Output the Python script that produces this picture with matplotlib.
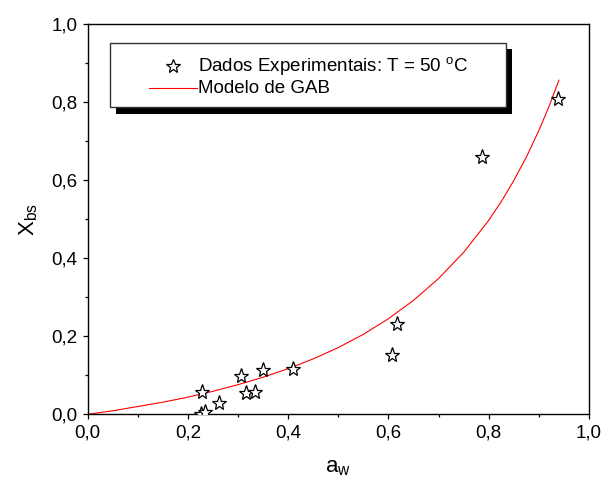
import matplotlib
matplotlib.use('Agg')
import matplotlib.pyplot as plt
from matplotlib.patches import Rectangle
from matplotlib.lines import Line2D

plt.rcParams['font.family'] = ['Liberation Sans', 'DejaVu Sans']
plt.rcParams['mathtext.fontset'] = 'custom'
plt.rcParams['mathtext.rm'] = 'Liberation Sans'
plt.rcParams['mathtext.it'] = 'Liberation Sans:italic'

# experimental points (aw, Xbs)
aw_exp = [0.228, 0.226, 0.233, 0.261, 0.306, 0.316, 0.334, 0.349, 0.409,
          0.608, 0.616, 0.787, 0.938]
x_exp = [0.057, 0.002, 0.006, 0.029, 0.098, 0.054, 0.057, 0.113, 0.117,
         0.153, 0.232, 0.660, 0.809]

# GAB curve
aw_gab = [0.0, 0.05, 0.10, 0.15, 0.20, 0.25, 0.30, 0.35, 0.40, 0.45, 0.50,
          0.55, 0.60, 0.65, 0.70, 0.75, 0.80, 0.825, 0.85, 0.875, 0.90, 0.92, 0.94]
x_gab = [0.0, 0.009, 0.020, 0.031, 0.044, 0.059, 0.076, 0.095, 0.117, 0.142,
         0.171, 0.205, 0.245, 0.292, 0.348, 0.415, 0.497, 0.545, 0.599, 0.659,
         0.727, 0.788, 0.856]

ticks = [0.0, 0.2, 0.4, 0.6, 0.8, 1.0]
tick_labels = ['0,0', '0,2', '0,4', '0,6', '0,8', '1,0']

W, H = 604, 494
fig = plt.figure(figsize=(W / 100, H / 100), dpi=100)
ax = fig.add_axes([87.7 / W, 1 - 414.3 / H, (589 - 87.7) / W, (414.3 - 24) / H])

ax.plot(aw_gab, x_gab, color='red', lw=0.8, zorder=2)
ax.plot(aw_exp, x_exp, linestyle='none', marker='*', markersize=11,
        markerfacecolor='white', markeredgecolor='black', markeredgewidth=0.9, zorder=3)

ax.set_xlim(0, 1)
ax.set_ylim(0, 1)
ax.set_xticks(ticks)
ax.set_xticklabels(tick_labels)
ax.set_yticks(ticks)
ax.set_yticklabels(tick_labels)
ax.set_xticks([0.1, 0.3, 0.5, 0.7, 0.9], minor=True)
ax.set_yticks([0.1, 0.3, 0.5, 0.7, 0.9], minor=True)
ax.tick_params(which='major', direction='out', length=3.8, width=0.9, labelsize=13.5)
ax.tick_params(which='minor', direction='out', length=2.2, width=0.9)
for s in ax.spines.values():
    s.set_linewidth(1.0)

ax.set_xlabel(r'a$_{\mathrm{w}}$', fontsize=16, labelpad=11)
ax.set_ylabel(r'X$_{\mathrm{bs}}$', fontsize=16, labelpad=8)

# legend box with black drop shadow (pixel positions)
def fx(px):
    return px / W

def fy(py):
    return 1 - py / H

fig.patches.append(Rectangle((fx(115.5), fy(114)), fx(511.5) - fx(115.5), fy(49) - fy(114),
                             transform=fig.transFigure, facecolor='black', edgecolor='none', zorder=5))
fig.patches.append(Rectangle((fx(110), fy(107)), fx(506) - fx(110), fy(43.5) - fy(107),
                             transform=fig.transFigure, facecolor='white', edgecolor='#333333',
                             lw=1.0, zorder=6))
fig.lines.append(Line2D([fx(173)], [fy(66)], transform=fig.transFigure, marker='*',
                        markersize=10, markerfacecolor='white', markeredgecolor='black',
                        markeredgewidth=0.9, linestyle='none', zorder=7))
fig.lines.append(Line2D([fx(149), fx(197)], [fy(88.3), fy(88.3)], transform=fig.transFigure,
                        color='red', lw=0.8, zorder=7))
fig.text(fx(197.5), fy(66), r'Dados Experimentais: T = 50 $^{\mathrm{o}}$C', fontsize=13.5,
         va='center', ha='left', zorder=8)
fig.text(fx(197.5), fy(88.3), 'Modelo de GAB', fontsize=13.5, va='center', ha='left', zorder=8)

fig.savefig('out.png', dpi=100)
